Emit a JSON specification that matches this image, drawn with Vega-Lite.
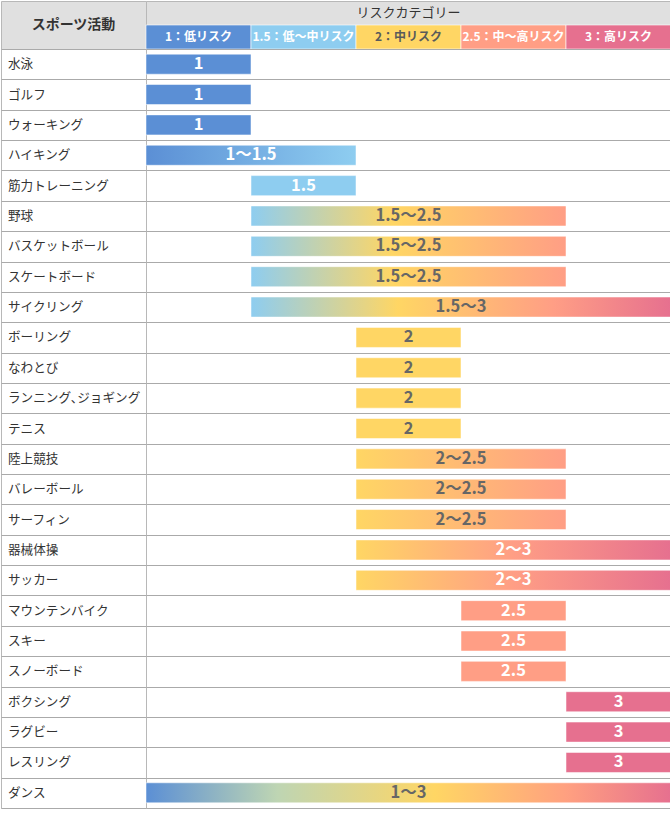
{
  "$schema": "https://vega.github.io/schema/vega-lite/v6.json",
  "padding": 0,
  "background": "white",
  "autosize": {"type": "pad"},
  "bounds": "flush",
  "columns": 2,
  "spacing": 0,
  "config": {
    "font": "Noto Sans CJK JP",
    "concat": {"spacing": 0},
    "view": {"stroke": "#b8b8b8"}
  },
  "datasets": {
    "sports": [
      {"sport": "水泳", "lo": 1, "hi": 1, "mid": 1, "label": "1"},
      {"sport": "ゴルフ", "lo": 1, "hi": 1, "mid": 1, "label": "1"},
      {"sport": "ウォーキング", "lo": 1, "hi": 1, "mid": 1, "label": "1"},
      {"sport": "ハイキング", "lo": 1, "hi": 1.5, "mid": 1.25, "label": "1〜1.5"},
      {"sport": "筋力トレーニング", "lo": 1.5, "hi": 1.5, "mid": 1.5, "label": "1.5"},
      {"sport": "野球", "lo": 1.5, "hi": 2.5, "mid": 2, "label": "1.5〜2.5"},
      {"sport": "バスケットボール", "lo": 1.5, "hi": 2.5, "mid": 2, "label": "1.5〜2.5"},
      {"sport": "スケートボード", "lo": 1.5, "hi": 2.5, "mid": 2, "label": "1.5〜2.5"},
      {"sport": "サイクリング", "lo": 1.5, "hi": 3, "mid": 2.25, "label": "1.5〜3"},
      {"sport": "ボーリング", "lo": 2, "hi": 2, "mid": 2, "label": "2"},
      {"sport": "なわとび", "lo": 2, "hi": 2, "mid": 2, "label": "2"},
      {"sport": "ランニング､ジョギング", "lo": 2, "hi": 2, "mid": 2, "label": "2"},
      {"sport": "テニス", "lo": 2, "hi": 2, "mid": 2, "label": "2"},
      {"sport": "陸上競技", "lo": 2, "hi": 2.5, "mid": 2.25, "label": "2〜2.5"},
      {"sport": "バレーボール", "lo": 2, "hi": 2.5, "mid": 2.25, "label": "2〜2.5"},
      {"sport": "サーフィン", "lo": 2, "hi": 2.5, "mid": 2.25, "label": "2〜2.5"},
      {"sport": "器械体操", "lo": 2, "hi": 3, "mid": 2.5, "label": "2〜3"},
      {"sport": "サッカー", "lo": 2, "hi": 3, "mid": 2.5, "label": "2〜3"},
      {"sport": "マウンテンバイク", "lo": 2.5, "hi": 2.5, "mid": 2.5, "label": "2.5"},
      {"sport": "スキー", "lo": 2.5, "hi": 2.5, "mid": 2.5, "label": "2.5"},
      {"sport": "スノーボード", "lo": 2.5, "hi": 2.5, "mid": 2.5, "label": "2.5"},
      {"sport": "ボクシング", "lo": 3, "hi": 3, "mid": 3, "label": "3"},
      {"sport": "ラグビー", "lo": 3, "hi": 3, "mid": 3, "label": "3"},
      {"sport": "レスリング", "lo": 3, "hi": 3, "mid": 3, "label": "3"},
      {"sport": "ダンス", "lo": 1, "hi": 3, "mid": 2, "label": "1〜3"}
    ],
    "cats": [
      {"cat": "1", "name": "1：低リスク"},
      {"cat": "1.5", "name": "1.5：低〜中リスク"},
      {"cat": "2", "name": "2：中リスク"},
      {"cat": "2.5", "name": "2.5：中〜高リスク"},
      {"cat": "3", "name": "3：高リスク"}
    ]
  },
  "concat": [
    {
      "width": 145,
      "height": 48,
      "view": {"fill": "#e0e0e0", "stroke": "#b8b8b8"},
      "data": {"values": [{"t": "スポーツ活動"}]},
      "mark": {"type": "text", "fontSize": 14, "fontWeight": "bold", "color": "#333333"},
      "encoding": {"text": {"field": "t"}}
    },
    {
      "width": 525,
      "height": 48,
      "view": {"fill": "#e0e0e0", "stroke": "#b8b8b8"},
      "data": {"name": "cats"},
      "encoding": {
        "x": {"field": "cat", "type": "nominal", "sort": null, "scale": {"domain": ["1", "1.5", "2", "2.5", "3"], "paddingInner": 0, "paddingOuter": 0}, "axis": null},
        "y": {"datum": "cats", "type": "nominal", "scale": {"domain": ["title", "cats"], "paddingInner": 0, "paddingOuter": 0}, "axis": null}
      },
      "layer": [
        {
          "mark": {"type": "rect", "stroke": "white", "strokeWidth": 1, "strokeOpacity": 0.6},
          "encoding": {
            "color": {"field": "cat", "type": "nominal", "scale": {"domain": ["1", "1.5", "2", "2.5", "3"], "range": ["#5b8fd5", "#8ecdf0", "#ffd664", "#ff9e85", "#e6708f"]}, "legend": null}
          }
        },
        {
          "mark": {"type": "text", "fontSize": 12, "fontWeight": "bold"},
          "encoding": {
            "text": {"field": "name"},
            "color": {"condition": {"test": "datum.cat === '2'", "value": "#5a5a5a"}, "value": "white"}
          }
        },
        {
          "data": {"values": [{"t": "リスクカテゴリー"}]},
          "mark": {"type": "text", "fontSize": 13, "color": "#333333"},
          "encoding": {
            "x": {"datum": "2", "type": "nominal"},
            "y": {"datum": "title", "type": "nominal"},
            "text": {"field": "t"}
          }
        }
      ]
    },
    {
      "width": 145,
      "height": 759,
      "data": {"name": "sports"},
      "mark": {"type": "text", "align": "left", "baseline": "middle", "dx": 7, "fontSize": 12.6, "color": "#333333"},
      "encoding": {
        "y": {
          "field": "sport", "type": "nominal", "sort": null,
          "scale": {"paddingInner": 0, "paddingOuter": 0},
          "axis": {"title": null, "labels": false, "ticks": false, "domain": false, "grid": true, "tickBand": "extent", "gridColor": "#aaaaaa", "gridWidth": 1.2}
        },
        "x": {"datum": 0, "type": "quantitative", "scale": {"domain": [0, 1]}, "axis": null},
        "text": {"field": "sport"}
      }
    },
    {
      "width": 525,
      "height": 759,
      "data": {"name": "sports"},
      "encoding": {
        "y": {
          "field": "sport", "type": "nominal", "sort": null,
          "scale": {"paddingInner": 0, "paddingOuter": 0},
          "axis": {"title": null, "labels": false, "ticks": false, "domain": false, "grid": true, "tickBand": "extent", "gridColor": "#aaaaaa", "gridWidth": 1.2}
        }
      },
      "layer": [
        {
          "mark": {"type": "bar", "height": {"band": 0.66}, "xOffset": -52.5, "x2Offset": 52.5, "stroke": "white", "strokeWidth": 1, "strokeOpacity": 0.5},
          "encoding": {
            "x": {"field": "lo", "type": "quantitative", "scale": {"domain": [0.75, 3.25], "nice": false, "zero": false}, "axis": null},
            "x2": {"field": "hi"},
            "color": {
              "field": "label", "type": "nominal",
              "scale": {"domain": ["1", "1.5", "2", "2.5", "3"], "range": ["#5b8fd5", "#8ecdf0", "#ffd664", "#ff9e85", "#e6708f"]},
              "legend": null,
              "condition": [
                {"test": "datum.label === '1〜1.5'", "value": {"gradient": "linear", "stops": [{"offset": 0, "color": "#5b8fd5"}, {"offset": 1, "color": "#8ecdf0"}]}},
                {"test": "datum.label === '1.5〜2.5'", "value": {"gradient": "linear", "stops": [{"offset": 0, "color": "#8ecdf0"}, {"offset": 0.45, "color": "#ffd664"}, {"offset": 1, "color": "#ff9e85"}]}},
                {"test": "datum.label === '1.5〜3'", "value": {"gradient": "linear", "stops": [{"offset": 0, "color": "#8ecdf0"}, {"offset": 0.35, "color": "#ffd664"}, {"offset": 0.72, "color": "#ff9e85"}, {"offset": 1, "color": "#e6708f"}]}},
                {"test": "datum.label === '2〜2.5'", "value": {"gradient": "linear", "stops": [{"offset": 0, "color": "#ffd664"}, {"offset": 1, "color": "#ff9e85"}]}},
                {"test": "datum.label === '2〜3'", "value": {"gradient": "linear", "stops": [{"offset": 0, "color": "#ffd664"}, {"offset": 0.5, "color": "#ff9e85"}, {"offset": 1, "color": "#e6708f"}]}},
                {"test": "datum.label === '1〜3'", "value": {"gradient": "linear", "stops": [{"offset": 0, "color": "#5b8fd5"}, {"offset": 0.25, "color": "#bed5b3"}, {"offset": 0.55, "color": "#ffd664"}, {"offset": 0.8, "color": "#ffa080"}, {"offset": 1, "color": "#e6708f"}]}}
              ]
            }
          }
        },
        {
          "mark": {"type": "text", "fontSize": 16.5, "fontWeight": "bold", "baseline": "middle"},
          "encoding": {
            "x": {"field": "mid", "type": "quantitative"},
            "text": {"field": "label"},
            "color": {
              "condition": {"test": "indexof(['2', '1.5〜2.5', '1.5〜3', '2〜2.5', '1〜3'], datum.label) >= 0", "value": "#666666"},
              "value": "white"
            }
          }
        }
      ]
    }
  ]
}
